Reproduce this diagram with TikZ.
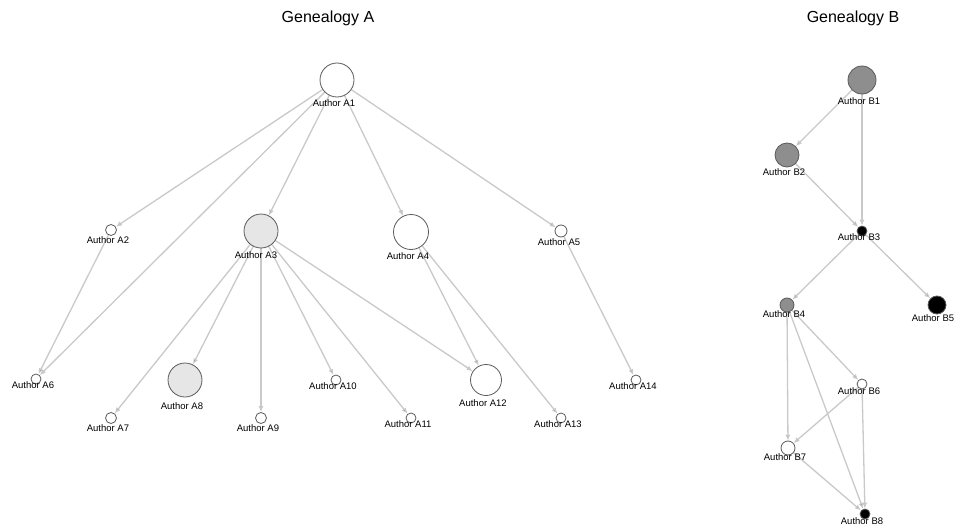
\documentclass[tikz,border=0pt]{standalone}
\usepackage{fontspec}
\setmainfont{Liberation Sans}
\usetikzlibrary{arrows.meta, backgrounds}
\definecolor{edgegray}{HTML}{C9C9C9}
\definecolor{ringgray}{HTML}{5A5A5A}
\definecolor{palegray}{HTML}{E6E6E6}
\definecolor{midgray}{HTML}{8E8E8E}
\tikzset{
    x=1pt, y=-1pt,
    author/.style={circle, draw=ringgray, line width=0.8pt, fill=white, inner sep=0pt, minimum size=#1},
    every label/.style={inner sep=0pt, xshift=-3pt, font=\fontsize{9.5}{11}\selectfont},
    label distance=0pt,
    link/.style={draw=edgegray, line width=1.3pt, -{Latex[length=6pt, width=5pt]}},
    title/.style={font=\fontsize{16}{19}\selectfont},
}

\begin{document}
\begin{tikzpicture}
    \useasboundingbox (0,0) rectangle (956,527);

    \node[title] (titleA) at (328,18) {Genealogy A};
    \node[title] (titleB) at (853,18) {Genealogy B};

    % genealogy A
    \node[author=34, label={[label distance=2pt]below:Author A1}] (A1) at (337,80) {};
    \node[author=11, label={[label distance=1pt]below:Author A2}] (A2) at (111,230) {};
    \node[author=34, fill=palegray, label={[label distance=3pt, xshift=-2pt]below:Author A3}] (A3) at (261,231) {};
    \node[author=35, label={[label distance=3pt]below:Author A4}] (A4) at (411,232) {};
    \node[author=12, label={[label distance=1pt, xshift=1pt]below:Author A5}] (A5) at (561,231) {};
    \node[author=10, label={[label distance=-2.5pt]below:Author A6}] (A6) at (36,379) {};
    \node[author=11, label={[label distance=1pt]below:Author A7}] (A7) at (111,418) {};
    \node[author=34, fill=palegray, label={[label distance=5pt]below:Author A8}] (A8) at (185,380) {};
    \node[author=11, label={[label distance=1pt]below:Author A9}] (A9) at (261,418) {};
    \node[author=10, label={[label distance=-2.5pt]below:Author A10}] (A10) at (336,380) {};
    \node[author=10, label={[label distance=-2.5pt]below:Author A11}] (A11) at (411,418) {};
    \node[author=31, label={[label distance=4pt]below:Author A12}] (A12) at (486,380) {};
    \node[author=10, label={[label distance=-2.5pt]below:Author A13}] (A13) at (561,418) {};
    \node[author=10, label={[label distance=-2.5pt]below:Author A14}] (A14) at (636,380) {};

    % genealogy B
    \node[author=28, fill=midgray, label={[label distance=3pt]below:Author B1}] (B1) at (862,80) {};
    \node[author=24, fill=midgray, label={[label distance=1.5pt]below:Author B2}] (B2) at (787,155) {};
    \node[author=10, fill=black, label={[label distance=-2.5pt]below:Author B3}] (B3) at (862,231) {};
    \node[author=14, fill=midgray, label={[label distance=-1.5pt]below:Author B4}] (B4) at (787,305) {};
    \node[author=18, fill=black, label={[label distance=0.5pt, xshift=-1pt]below:Author B5}] (B5) at (937,305) {};
    \node[author=10, label={[label distance=-1.5pt]below:Author B6}] (B6) at (862,384) {};
    \node[author=14, label={[label distance=-1.5pt]below:Author B7}] (B7) at (788,448) {};
    \node[author=10, fill=black, label={[label distance=-2pt]below:Author B8}] (B8) at (865,514) {};

    \begin{pgfonlayer}{background}
    \draw[link] (A1) edge (A2)
          (A1) edge (A6)
          (A1) edge (A3)
          (A1) edge (A4)
          (A1) edge (A5)
          (A2) edge (A6)
          (A3) edge (A7)
          (A3) edge (A8)
          (A3) edge (A9)
          (A3) edge (A10)
          (A3) edge (A11)
          (A3) edge (A12)
          (A4) edge (A12)
          (A4) edge (A13)
          (A5) edge (A14)
          (B1) edge (B2)
          (B1) edge (B3)
          (B2) edge (B3)
          (B3) edge (B4)
          (B3) edge (B5)
          (B4) edge (B6)
          (B4) edge (B7)
          (B4) edge (B8)
          (B6) edge (B7)
          (B6) edge (B8)
          (B7) edge (B8)
          ;
    \end{pgfonlayer}
\end{tikzpicture}
\end{document}
